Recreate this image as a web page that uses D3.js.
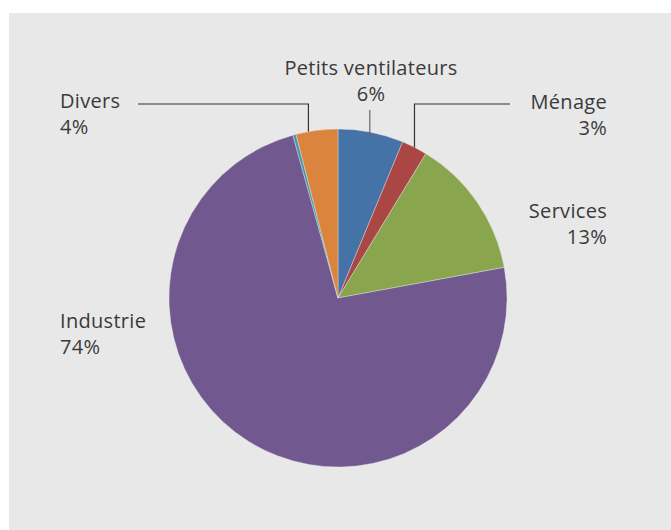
<!DOCTYPE html>
<html><head><meta charset="utf-8">
<script src="https://cdn.jsdelivr.net/npm/d3@7"></script>
<style>body{margin:0;background:#fff}svg{display:block}text{font-family:"Open Sans","Noto Sans",sans-serif;fill:#3a3a3a}</style>
</head><body><svg id="c" width="671" height="530"></svg>
<script>
const categories = ["Petits ventilateurs","Ménage","Services","Industrie","Autres","Divers"];
const values = [6.25, 2.45, 13.4, 73.6, 0.3, 4.0];
const labels = ["6%","3%","13%","74%","","4%"];
const colors = ["#4572a7","#aa4643","#89a54e","#71588f","#4198af","#db843d"];

const svg = d3.select("#c");
svg.append("rect").attr("x",9).attr("y",13).attr("width",662).attr("height",517).attr("fill","#e8e8e8");
const cx=338, cy=298, r=169;
const pie = d3.pie().sort(null).value(d=>d)(values);
const arc = d3.arc().innerRadius(0).outerRadius(r);
const g = svg.append("g").attr("transform",`translate(${cx},${cy})`);
g.selectAll("path").data(pie).join("path").attr("d",arc)
  .attr("fill",(d,i)=>colors[i]).attr("stroke","#e8e8e8").attr("stroke-width",0.4);

const pt = (i, rr, frac) => { const p=pie[i]; const a = p.startAngle + (p.endAngle-p.startAngle)*frac; return [cx+Math.sin(a)*rr, cy-Math.cos(a)*rr]; };
const lines = svg.append("g").attr("fill","none").attr("stroke","#333").attr("stroke-width",1.2);
let p0 = pt(0, r-6, 0.5);
lines.append("path").attr("d",`M${p0[0]},${110}V${p0[1]}`).attr("stroke","#666");
let p1 = pt(1, r, 0.5);
lines.append("path").attr("d",`M${p1[0]},${p1[1]}V104H510`);
let p5 = pt(5, r, 0.3);
lines.append("path").attr("d",`M138,104H${p5[0]}V${p5[1]}`);

const fs = 20;
function lbl(x,y,anchor,t1,t2){
  svg.append("text").attr("x",x).attr("y",y).attr("text-anchor",anchor).attr("font-size",fs).attr("letter-spacing",0.3).text(t1);
  svg.append("text").attr("x",x).attr("y",y+26).attr("text-anchor",anchor).attr("font-size",fs).attr("letter-spacing",0.3).text(t2);
}
lbl(371,75,"middle",categories[0],labels[0]);
lbl(607,109,"end",categories[1],labels[1]);
lbl(607,218,"end",categories[2],labels[2]);
lbl(60,328,"start",categories[3],labels[3]);
lbl(60,108,"start",categories[5],labels[5]);
</script></body></html>
